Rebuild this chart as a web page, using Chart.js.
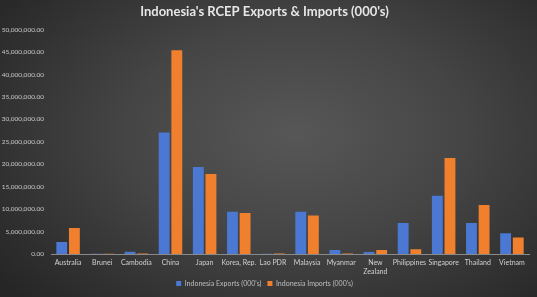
<!DOCTYPE html>
<html><head><meta charset="utf-8">
<script src="https://cdn.jsdelivr.net/npm/chart.js@4.4.0/dist/chart.umd.min.js"></script>
<style>
html,body{margin:0;padding:0;}
body{width:537px;height:297px;overflow:hidden;background:radial-gradient(ellipse 70% 80% at 55% 45%, #575757 0%, #454545 45%, #2e2e2e 85%, #262626 100%);}
#wrap{width:537px;height:297px;position:relative;}
</style></head>
<body><div id="wrap"><canvas id="c" width="537" height="297"></canvas></div>
<script>
const categories = ["Australia","Brunei","Cambodia","China","Japan","Korea, Rep.","Lao PDR","Malaysia","Myanmar",["New","Zealand"],"Philippines","Singapore","Thailand","Vietnam"];
const exportsData = [2700000, 30000, 500000, 27100000, 19400000, 9400000, 40000, 9400000, 900000, 450000, 6900000, 13000000, 6900000, 4600000];
const importsData = [5800000, 50000, 120000, 45400000, 17800000, 9150000, 120000, 8600000, 100000, 900000, 1050000, 21400000, 10900000, 3700000];
const seriesNames = ["Indonesia Exports (000's)","Indonesia Imports (000's)"];
const yMax = 50000000, yStep = 5000000;

new Chart(document.getElementById('c'), {
  type: 'bar',
  data: {
    labels: categories,
    datasets: [
      {label: seriesNames[0], data: exportsData, backgroundColor: '#4a78d2', barPercentage: 0.86, categoryPercentage: 0.74},
      {label: seriesNames[1], data: importsData, backgroundColor: '#f0802e', barPercentage: 0.86, categoryPercentage: 0.74}
    ]
  },
  options: {
    responsive: false, animation: false,
    layout: {padding: {left: 0, right: 8, top: 2, bottom: 0}},
    plugins: {
      title: {display: true, text: "Indonesia's RCEP Exports & Imports (000's)", color: '#e6e6e6',
        font: {family: 'Lato', size: 13, weight: 'bold'}, padding: {top: 2, bottom: 10}},
      legend: {position: 'bottom', labels: {color: '#bfbfbf', font: {family: 'Lato', size: 7}, boxWidth: 5, boxHeight: 5, padding: 6}},
      tooltip: {enabled: false}
    },
    scales: {
      x: {
        afterFit: a => { a.height = 20; },
        grid: {display: false, drawTicks: false},
        border: {display: true, color: '#8a8a8a', width: 1},
        ticks: {color: '#d0d0d0', font: {family: 'Lato', size: 7}, maxRotation: 0, autoSkip: false, padding: 5}
      },
      y: {
        min: 0, max: yMax,
        afterFit: a => { a.width = 51; },
        grid: {display: false, drawTicks: false},
        border: {display: false},
        ticks: {stepSize: yStep, color: '#c8c8c8', font: {family: 'Lato', size: 6.5}, padding: 7,
          callback: v => v.toLocaleString('en-US', {minimumFractionDigits: 2, maximumFractionDigits: 2})}
      }
    }
  }
});
</script></body></html>
